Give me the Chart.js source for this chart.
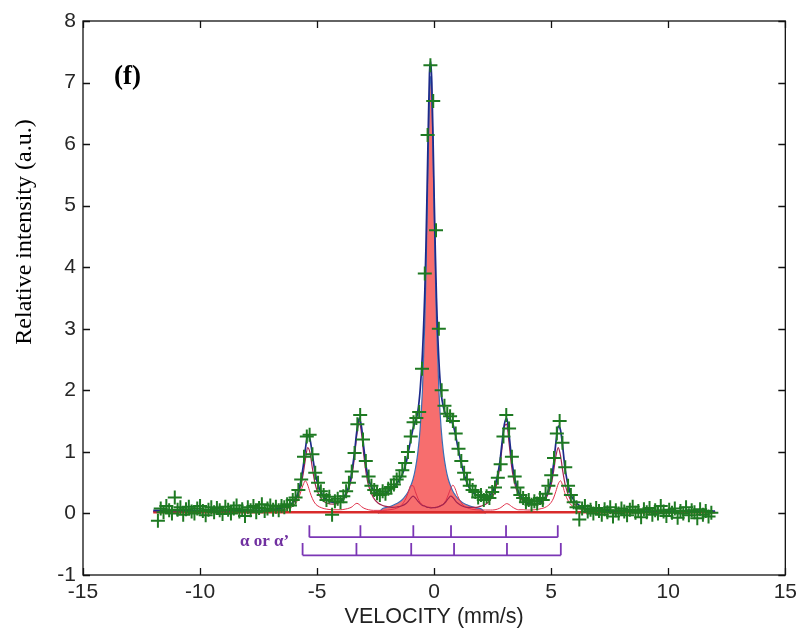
<!DOCTYPE html>
<html>
<head>
<meta charset="utf-8">
<script src="https://cdn.jsdelivr.net/npm/chart.js@4/dist/chart.umd.min.js"></script>
<style>
  html, body { margin: 0; padding: 0; background: #fff; }
  #wrap { width: 802px; height: 635px; }
</style>
</head>
<body>
<div id="wrap"><canvas id="chart" width="802" height="635"></canvas></div>
<script>
// measured channels: first velocity and channel step (mm/s)
const DATA_START = -11.8
const DATA_STEP = 0.12
const DATA_Y = [
  -0.12, 0.08, 0.02, 0.12, 0.05, 0.0, 0.26, 0.06, 0.1, -0.02,
  0.07, 0.11, 0.03, 0.0, 0.08, 0.12, 0.04, -0.03, 0.06, 0.1,
  0.02, 0.09, 0.05, -0.01, 0.11, 0.06, 0.0, 0.08, 0.13, 0.03,
  0.07, -0.04, 0.1, 0.05, 0.12, 0.02, 0.09, 0.15, 0.04, 0.08,
  0.13, 0.06, 0.11, 0.05, 0.12, 0.1, 0.15, 0.13, 0.22, 0.26,
  0.38, 0.55, 0.92, 1.25, 1.28, 0.96, 0.66, 0.5, 0.36, 0.3,
  0.22, 0.27, -0.02, 0.2, 0.24, 0.18, 0.28, 0.36, 0.5, 0.68,
  0.98, 1.45, 1.6, 1.2, 0.85, 0.6, 0.45, 0.38, 0.33, 0.3,
  0.36, 0.32, 0.4, 0.43, 0.47, 0.55, 0.6, 0.7, 0.82, 1.0,
  1.25, 1.48, 1.55, 1.65, 2.35, 3.9, 6.15, 7.28, 6.7, 4.6,
  3.0, 2.0, 1.75, 1.62, 1.58, 1.5, 1.3, 1.05, 0.85, 0.66,
  0.55, 0.45, 0.38, 0.35, 0.26, 0.3, 0.22, 0.28, 0.25, 0.35,
  0.42, 0.58, 0.8, 1.25, 1.6, 1.38, 0.92, 0.6, 0.42, 0.3,
  0.25, 0.18, 0.22, 0.14, 0.2, 0.16, 0.25, 0.22, 0.32, 0.45,
  0.62, 0.9, 1.3, 1.5, 1.15, 0.75, 0.45, 0.3, 0.18, 0.1,
  -0.1, 0.08, 0.12, 0.03, 0.06, 0.0, 0.09, 0.04, -0.02, 0.07,
  0.02, 0.1, -0.05, 0.05, 0.0, 0.08, 0.03, -0.03, 0.06, 0.11,
  0.01, 0.04, -0.06, 0.07, 0.02, 0.09, -0.02, 0.05, 0.0, 0.12,
  0.03, -0.04, 0.06, 0.01, 0.08, -0.07, 0.04, 0.0, 0.1, -0.03,
  0.05, 0.02, -0.08, 0.07, -0.02, 0.04, -0.05, 0.01
]

// velocities where the fitted curves were read
const FIT_V = [
  -12, -11, -10, -9, -8, -7,
  -6.5, -6.2, -6.0, -5.8, -5.6, -5.5, -5.4, -5.3, -5.2, -5.1, -5.0,
  -4.8, -4.6, -4.3, -4.0, -3.8, -3.6, -3.5, -3.4, -3.3, -3.2, -3.1, -3.0, -2.9, -2.8,
  -2.6, -2.4, -2.2, -2.0, -1.8, -1.6, -1.4, -1.2, -1.1, -1.0, -0.9, -0.8, -0.7, -0.6, -0.5,
  -0.4, -0.35, -0.3, -0.25, -0.2, -0.15, -0.1, -0.05, 0, 0.05, 0.1, 0.2,
  0.3, 0.4, 0.5, 0.6, 0.7, 0.8, 0.9, 1.0, 1.2, 1.4, 1.6, 1.8, 2.0, 2.2,
  2.4, 2.6, 2.8, 2.9, 3.0, 3.1, 3.2, 3.3, 3.4, 3.6, 3.8, 4.0, 4.3, 4.6,
  4.8, 5.0, 5.1, 5.2, 5.3, 5.4, 5.5, 5.6, 5.8, 6.0, 6.2, 6.5,
  7, 8, 9, 10, 11, 12
]

const FIT_TOTAL = [
  0.05, 0.05, 0.05, 0.05, 0.05, 0.06,
  0.09, 0.13, 0.2, 0.35, 0.75, 1.05, 1.27, 1.2, 0.95, 0.7, 0.52,
  0.32, 0.22, 0.18, 0.2, 0.3, 0.5, 0.72, 1.0, 1.35, 1.55, 1.4, 1.05, 0.75, 0.55,
  0.38, 0.32, 0.32, 0.35, 0.41, 0.49, 0.6, 0.82, 1.0, 1.2, 1.38, 1.5, 1.65, 2.0, 2.6,
  3.6, 4.35, 5.3, 6.3, 7.15, 7.35, 7.0, 6.15, 5.15, 4.25, 3.5, 2.5,
  1.95, 1.72, 1.6, 1.55, 1.52, 1.45, 1.3, 1.1, 0.75, 0.5, 0.36, 0.3, 0.27, 0.26,
  0.3, 0.45, 0.82, 1.15, 1.45, 1.55, 1.28, 0.92, 0.65, 0.35, 0.23, 0.17, 0.15, 0.2,
  0.3, 0.55, 0.8, 1.15, 1.42, 1.35, 1.05, 0.7, 0.35, 0.2, 0.13, 0.08,
  0.05, 0.04, 0.04, 0.04, 0.04, 0.04
]

const FIT_SINGLET = [
  null, null, null, null, null, null,
  null, null, null, null, null, null, null, null, null, null, null,
  null, null, null, null, null, null, null, null, null, null, null, null, null, null,
  null, 0, 0.08, 0.1, 0.125, 0.16, 0.21, 0.3, 0.36, 0.45, 0.56, 0.73, 0.98, 1.37, 2.01,
  3.1, 3.89, 4.85, 5.88, 6.75, 7.1, 6.75, 5.88, 4.85, 3.89, 3.1, 2.01,
  1.37, 0.98, 0.73, 0.56, 0.45, 0.36, 0.3, 0.25, 0.18, 0.14, 0.11, 0.09, 0.074, 0,
  null, null, null, null, null, null, null, null, null, null, null, null, null, null,
  null, null, null, null, null, null, null, null, null, null, null, null,
  null, null, null, null, null, null
]

const FIT_SEXTET_A = [
  0.03, 0.03, 0.03, 0.035, 0.04, 0.055,
  0.09, 0.13, 0.18, 0.31, 0.63, 0.88, 1.07, 0.98, 0.73, 0.51, 0.37,
  0.23, 0.17, 0.15, 0.19, 0.27, 0.46, 0.64, 0.93, 1.29, 1.49, 1.29, 0.93, 0.64, 0.45,
  0.26, 0.17, 0.13, 0.11, 0.1, 0.105, 0.12, 0.16, 0.2, 0.25, 0.28, 0.25, 0.2, 0.16, 0.13,
  0.12, 0.11, 0.1, 0.1, 0.095, 0.09, 0.09, 0.095, 0.095, 0.095, 0.1, 0.11,
  0.13, 0.15, 0.19, 0.24, 0.28, 0.26, 0.21, 0.17, 0.12, 0.1, 0.1, 0.1, 0.12, 0.15,
  0.22, 0.37, 0.74, 1.07, 1.41, 1.45, 1.14, 0.79, 0.55, 0.3, 0.2, 0.16, 0.15, 0.18,
  0.26, 0.47, 0.68, 0.93, 1.07, 0.93, 0.67, 0.46, 0.24, 0.15, 0.1, 0.075,
  0.05, 0.04, 0.035, 0.03, 0.03, 0.03
]

const FIT_SEXTET_B = [
  0.03, 0.03, 0.03, 0.03, 0.035, 0.045,
  0.06, 0.09, 0.13, 0.24, 0.46, 0.53, 0.46, 0.34, 0.24, 0.17, 0.13,
  0.09, 0.07, 0.06, 0.06, 0.07, 0.09, 0.11, 0.145, 0.165, 0.145, 0.11, 0.085, 0.07, 0.06,
  0.05, 0.05, 0.05, 0.055, 0.065, 0.085, 0.13, 0.25, 0.35, 0.45, 0.45, 0.35, 0.25, 0.18, 0.14,
  0.12, 0.11, 0.105, 0.1, 0.1, 0.1, 0.095, 0.095, 0.095, 0.1, 0.1, 0.115,
  0.13, 0.16, 0.21, 0.3, 0.4, 0.46, 0.4, 0.29, 0.15, 0.095, 0.07, 0.06, 0.055, 0.055,
  0.055, 0.06, 0.085, 0.11, 0.14, 0.16, 0.145, 0.115, 0.09, 0.06, 0.06, 0.055, 0.06, 0.08,
  0.11, 0.18, 0.25, 0.36, 0.48, 0.53, 0.44, 0.31, 0.16, 0.1, 0.075, 0.055,
  0.04, 0.03, 0.03, 0.03, 0.03, 0.03
]

const BASELINE_V = [-12, 12]
const BASELINE_Y = [0.02, 0.02]

// line positions of the two stick diagrams (alpha / alpha')
const STICKS_A = [-5.33, -3.15, -0.89, 0.72, 3.07, 5.28]
const STICKS_B = [-5.62, -3.32, -0.98, 0.85, 3.11, 5.41]
const STICK_LEVELS_A = [-0.19, -0.385]
const STICK_LEVELS_B = [-0.48, -0.68]

const X_TICKS = [-15, -10, -5, 0, 5, 10, 15]
const Y_TICKS = [-1, 0, 1, 2, 3, 4, 5, 6, 7, 8]

Chart.defaults.font.family = "'Liberation Sans', Arial, sans-serif"
Chart.defaults.font.size = 21

const pts = (xs, ys) => xs.map((v, i) => ({ x: v, y: ys[i] }))

const dataPts = DATA_Y.map((y, i) => ({ x: +(DATA_START + i * DATA_STEP).toFixed(2), y }))

const bracket = (pos, levels) => {
  const out = []
  pos.forEach(p => {
    out.push({ x: p, y: levels[0] }, { x: p, y: levels[1] }, { x: p, y: null })
  })
  out.push({ x: pos[0], y: levels[1] }, { x: pos[pos.length - 1], y: levels[1] })
  return out
}

const lineSet = (label, data, color, width, order, extra) => Object.assign({
  label,
  data,
  showLine: true,
  borderColor: color,
  borderWidth: width,
  pointRadius: 0,
  fill: false,
  spanGaps: false,
  order
}, extra || {})

const frame = {
  id: 'frame',
  afterDraw(chart) {
    const { ctx, chartArea: a, scales: { x, y } } = chart
    ctx.save()
    ctx.strokeStyle = '#111'
    ctx.lineWidth = 1.3
    ctx.strokeRect(a.left, a.top, a.right - a.left, a.bottom - a.top)
    ctx.beginPath()
    X_TICKS.forEach(v => {
      const px = Math.round(x.getPixelForValue(v)) + 0.5
      ctx.moveTo(px, a.bottom); ctx.lineTo(px, a.bottom - 7)
      ctx.moveTo(px, a.top); ctx.lineTo(px, a.top + 7)
    })
    Y_TICKS.forEach(v => {
      const py = Math.round(y.getPixelForValue(v)) + 0.5
      ctx.moveTo(a.left, py); ctx.lineTo(a.left + 7, py)
      ctx.moveTo(a.right, py); ctx.lineTo(a.right - 7, py)
    })
    ctx.stroke()

    ctx.fillStyle = '#222'
    ctx.textAlign = 'center'
    ctx.textBaseline = 'middle'
    ctx.font = "21.5px 'Liberation Sans', Arial, sans-serif"
    ctx.fillText('VELOCITY (mm/s)', (a.left + a.right) / 2, 617)

    ctx.save()
    ctx.translate(25, 232)
    ctx.rotate(-Math.PI / 2)
    ctx.fillStyle = '#000'
    ctx.font = "24px 'Liberation Serif', 'Times New Roman', serif"
    ctx.fillText('Relative intensity (a.u.)', 0, 0)
    ctx.restore()

    ctx.fillStyle = '#000'
    ctx.textAlign = 'left'
    ctx.font = "bold 27px 'Liberation Serif', 'Times New Roman', serif"
    ctx.fillText('(f)', 114, 77)

    ctx.fillStyle = '#7030A0'
    ctx.font = "bold 17px 'Liberation Serif', 'Times New Roman', serif"
    ctx.fillText('\u03b1 or \u03b1\u2019', 240, 542)
    ctx.restore()
  }
}

new Chart(document.getElementById('chart'), {
  type: 'scatter',
  data: {
    datasets: [
      {
        label: 'data',
        data: dataPts,
        pointStyle: 'cross',
        pointRadius: 7,
        pointBorderWidth: 2,
        borderColor: '#1E7A22',
        backgroundColor: '#1E7A22',
        showLine: false,
        order: 1
      },
      lineSet('total', pts(FIT_V, FIT_TOTAL), '#1D2A8A', 1.7, 2, { cubicInterpolationMode: 'monotone' }),
      lineSet('sextet A', pts(FIT_V, FIT_SEXTET_A), '#A3244E', 1.2, 3, { cubicInterpolationMode: 'monotone' }),
      lineSet('sextet B', pts(FIT_V, FIT_SEXTET_B), '#E0304A', 1, 4, { cubicInterpolationMode: 'monotone' }),
      lineSet('baseline', pts(BASELINE_V, BASELINE_Y), '#D92B2B', 2.5, 5),
      lineSet('singlet', pts(FIT_V, FIT_SINGLET), '#3B6DB5', 1.2, 6, {
        cubicInterpolationMode: 'monotone',
        fill: 'origin',
        backgroundColor: 'rgba(246, 98, 98, 0.92)'
      }),
      lineSet('alpha', bracket(STICKS_A, STICK_LEVELS_A), '#7B36B5', 1.8, 7),
      lineSet("alpha'", bracket(STICKS_B, STICK_LEVELS_B), '#7B36B5', 1.8, 7)
    ]
  },
  options: {
    responsive: false,
    animation: false,
    devicePixelRatio: 1,
    layout: { padding: { top: 21, right: 15, left: 0, bottom: 0 } },
    plugins: {
      legend: { display: false },
      tooltip: { enabled: false }
    },
    scales: {
      x: {
        type: 'linear',
        min: -15,
        max: 15,
        afterFit: s => { s.height = 60 },
        afterBuildTicks: s => { s.ticks = X_TICKS.map(v => ({ value: v })) },
        grid: { display: false, drawTicks: false },
        border: { display: false },
        ticks: { color: '#262626', padding: 5, maxRotation: 0 }
      },
      y: {
        type: 'linear',
        min: -1,
        max: 8,
        afterFit: s => { s.width = 83 },
        afterBuildTicks: s => { s.ticks = Y_TICKS.map(v => ({ value: v })) },
        grid: { display: false, drawTicks: false },
        border: { display: false },
        ticks: { color: '#262626', padding: 7 }
      }
    }
  },
  plugins: [frame]
})
</script>
</body>
</html>
